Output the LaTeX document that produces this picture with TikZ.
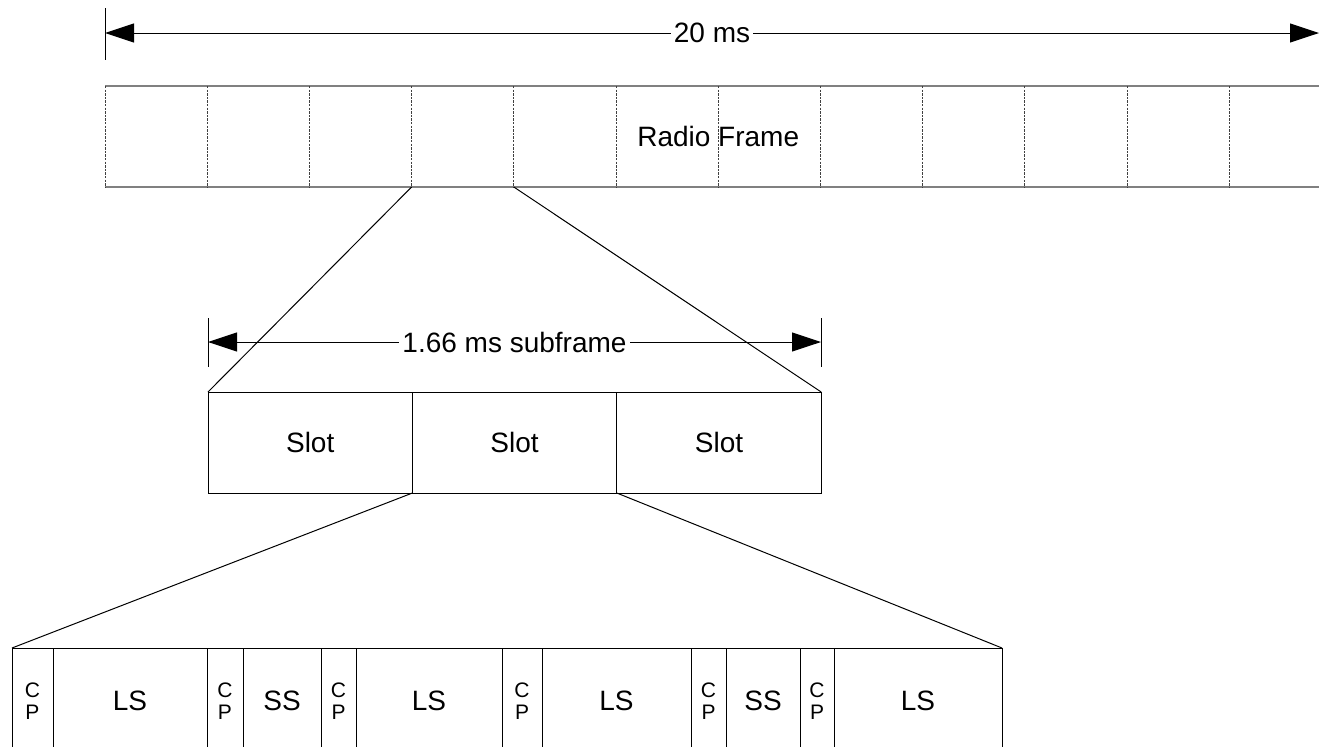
\documentclass[tikz,border=0pt]{standalone}
\usepackage{fontspec}
\setmainfont{Liberation Sans}
\usetikzlibrary{arrows.meta,positioning}

\begin{document}
\begin{tikzpicture}[x=0.5pt,y=-0.5pt,
	>={Triangle[length=14.5pt,width=9.5pt]},
	font=\fontsize{14}{17}\selectfont]
	\tikzset{
		frame cell/.style={minimum width=51.1pt,minimum height=50.5pt,inner sep=0pt,outer sep=0pt,anchor=north west},
		slot/.style={draw,line width=0.5pt,minimum width=102.2pt,minimum height=50.5pt,inner sep=0pt,outer sep=0pt,anchor=north west},
		sym/.style={draw,line width=0.5pt,minimum height=53pt,inner sep=0pt,outer sep=0pt,anchor=north west},
		cp/.style={sym,align=center,font=\fontsize{10.5}{11}\selectfont},
		bar/.style={line width=0.5pt},
		span/.style={<->,line width=0.5pt},
		span label/.style={fill=white,inner sep=1.5pt},
		edge gray/.style={draw=gray,line width=1pt},
		divider/.style={dash pattern=on 1.2pt off 0.6pt,draw=black!75,line width=0.45pt},
		zoom/.style={line width=0.5pt}
	}
	\useasboundingbox (0,0) rectangle (1319,746);
	\clip (0,0) rectangle (1319,746);

	% radio frame
	\foreach \i in {1,...,12}
		\node[frame cell] (rf\i) at ({105+(\i-1)*102.2},86) {};
	\draw[edge gray] (rf1.north west) -- (rf12.north east);
	\draw[edge gray] (rf1.south west) -- (rf12.south east);
	\foreach \i in {1,...,12}
		\draw[divider] (rf\i.north west) -- (rf\i.south west);
	\node (rflabel) at (rf6.east) {Radio Frame};

	% 20 ms
	\coordinate (fa) at (105,33);
	\coordinate (fb) at (1319,33);
	\draw[bar] (105,8) -- (105,60);
	\draw[span] (fa) -- (fb) node[midway,span label] (flabel) {20 ms};

	% subframe
	\node[slot] (sl1) at (208,392) {Slot};
	\node[slot,right=0pt of sl1] (sl2) {Slot};
	\node[slot,right=0pt of sl2] (sl3) {Slot};

	\draw[zoom] (rf4.south west) -- (sl1.north west);
	\draw[zoom] (rf4.south east) -- (sl3.north east);

	\coordinate (sa) at (208,342);
	\coordinate (sb) at (821,342);
	\draw[bar] (208,318) -- (208,367);
	\draw[bar] (821,318) -- (821,367);
	\draw[span] (sa) -- (sb) node[midway,span label] (slabel) {1.66 ms subframe};

	% symbols
	\node[cp,minimum width=20.5pt] (cp1) at (12,648) {C\\P};
	\node[sym,minimum width=77pt,right=0pt of cp1] (ls1) {LS};
	\node[cp,minimum width=18pt,right=0pt of ls1] (cp2) {C\\P};
	\node[sym,minimum width=39pt,right=0pt of cp2] (ss1) {SS};
	\node[cp,minimum width=17.5pt,right=0pt of ss1] (cp3) {C\\P};
	\node[sym,minimum width=73pt,right=0pt of cp3] (ls2) {LS};
	\node[cp,minimum width=20pt,right=0pt of ls2] (cp4) {C\\P};
	\node[sym,minimum width=74.5pt,right=0pt of cp4] (ls3) {LS};
	\node[cp,minimum width=17.5pt,right=0pt of ls3] (cp5) {C\\P};
	\node[sym,minimum width=37pt,right=0pt of cp5] (ss2) {SS};
	\node[cp,minimum width=17pt,right=0pt of ss2] (cp6) {C\\P};
	\node[sym,minimum width=84pt,right=0pt of cp6] (ls4) {LS};

	\draw[zoom] (sl2.south west) -- (cp1.north west);
	\draw[zoom] (sl2.south east) -- (ls4.north east);
\end{tikzpicture}
\end{document}
